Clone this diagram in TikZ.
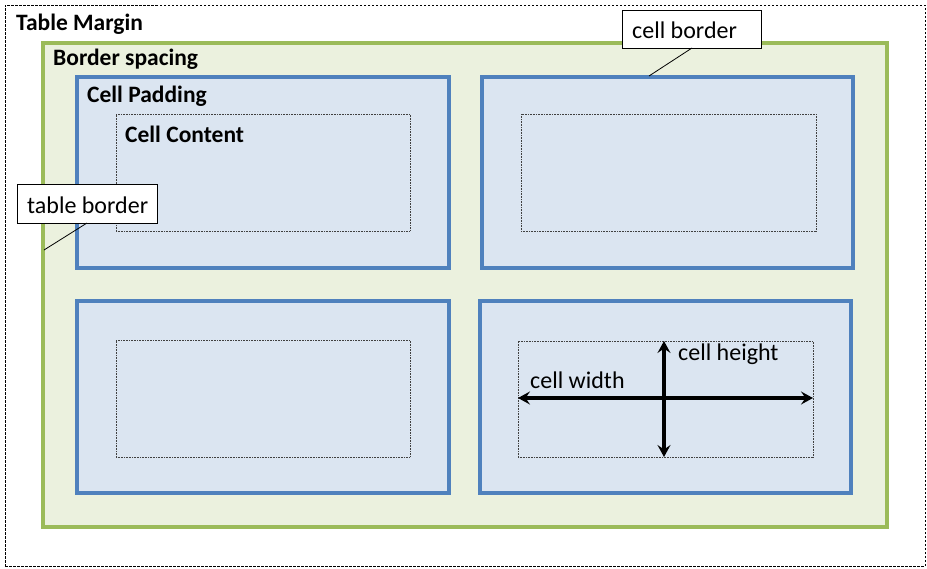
\documentclass[tikz,border=0pt]{standalone}
\usepackage{fontspec}
\setmainfont{Carlito}
\usetikzlibrary{arrows.meta}
\definecolor{gborder}{HTML}{9BBB59}
\definecolor{gfill}{HTML}{EBF1DE}
\definecolor{bborder}{HTML}{4F81BD}
\definecolor{bfill}{HTML}{DBE5F1}
\tikzset{
  box/.style={rectangle, inner sep=0pt, outer sep=0pt, anchor=north west},
  marginbox/.style={box, draw=black, line width=0.8pt, dash pattern=on 2.5pt off 1.5pt},
  spacingbox/.style={box, draw=gborder, fill=gfill, line width=4pt},
  cellbox/.style={box, draw=bborder, fill=bfill, line width=4pt},
  contentbox/.style={box, draw=black!75, line width=0.7pt, dash pattern=on 0.8pt off 0.8pt},
  boldlabel/.style={anchor=west, inner sep=0pt, font=\fontsize{23.5}{27}\selectfont\bfseries},
  plainlabel/.style={anchor=west, inner sep=0pt, font=\fontsize{24}{27}\selectfont},
  callout/.style={box, draw=black, fill=white, line width=1pt},
  leader/.style={draw=black, line width=0.8pt},
  dimarrow/.style={line width=3.4pt, {Stealth[length=12pt,width=13pt,inset=4.5pt]}-{Stealth[length=12pt,width=13pt,inset=4.5pt]}}
}
\begin{document}
\begin{tikzpicture}[x=1pt,y=-1pt]
\useasboundingbox (0,0) rectangle (927,568);
% table margin
\node[marginbox, minimum width=920pt, minimum height=561pt] (margin) at (5,5) {};
\node[boldlabel] (tmlabel) at (16,24) {Table Margin};
% border spacing
\node[spacingbox, minimum width=844pt, minimum height=484pt] (spacing) at (43,43) {};
\node[boldlabel] (bslabel) at (53,59) {Border spacing};
% cells
\node[cellbox, minimum width=372pt, minimum height=191pt] (c1) at (77,77) {};
\node[cellbox, minimum width=371pt, minimum height=191pt] (c2) at (482,77) {};
\node[cellbox, minimum width=372pt, minimum height=192pt] (c3) at (77,301) {};
\node[cellbox, minimum width=371pt, minimum height=192pt] (c4) at (480,301) {};
% contents
\node[contentbox, minimum width=294pt, minimum height=117pt] (k1) at (116,114) {};
\node[contentbox, minimum width=295pt, minimum height=117pt] (k2) at (521,114) {};
\node[contentbox, minimum width=294pt, minimum height=117pt] (k3) at (116,340) {};
\node[contentbox, minimum width=295pt, minimum height=116pt] (k4) at (518,341) {};
\node[boldlabel] (cplabel) at (87,96) {Cell Padding};
\node[boldlabel] (cclabel) at (125,134) {Cell Content};
% dimension arrows
\coordinate (wl) at (k4.west |- 0,398);
\coordinate (wr) at (k4.east |- 0,398);
\coordinate (ht) at (664,341);
\coordinate (hb) at (664,457);
\draw[dimarrow] (wl) -- (wr);
\draw[dimarrow] (ht) -- (hb);
\node[plainlabel] (cwlabel) at (530,380) {cell width};
\node[plainlabel] (chlabel) at (678,354) {cell height};
% callouts
\node[callout, minimum width=139pt, minimum height=38pt] (cb) at (622,10) {};
\node[plainlabel] (cbtext) at (632,30) {cell border};
\coordinate (cbend) at (649,76);
\draw[leader] (cb.south west) ++(70,0) coordinate (cbstart) -- (cbend);
\node[callout, minimum width=140pt, minimum height=39pt] (tb) at (17,184) {};
\node[plainlabel] (tbtext) at (27,205) {table border};
\coordinate (tbend) at (44,250);
\draw[leader] (tb.south west) ++(70,0) coordinate (tbstart) -- (tbend);
\end{tikzpicture}
\end{document}
